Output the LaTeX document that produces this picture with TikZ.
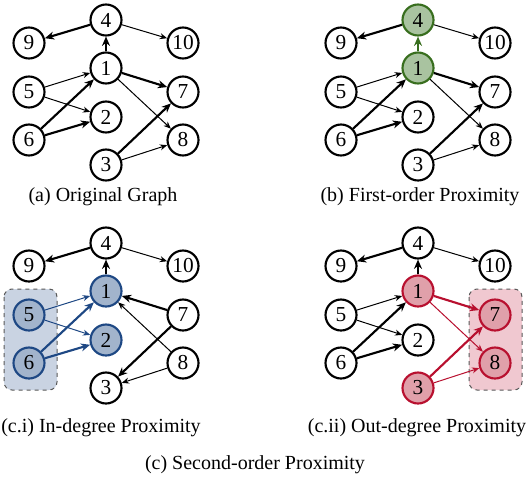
\documentclass[tikz,border=0pt]{standalone}
\usepackage{fontspec}
\setmainfont{Liberation Serif}
\usetikzlibrary{arrows.meta}
\definecolor{gfill}{RGB}{169,195,160}
\definecolor{gline}{RGB}{56,110,30}
\definecolor{bfill}{RGB}{162,180,204}
\definecolor{bline}{RGB}{30,72,132}
\definecolor{rfill}{RGB}{224,160,170}
\definecolor{rline}{RGB}{184,16,47}
\definecolor{bgrp}{RGB}{201,211,226}
\definecolor{rgrp}{RGB}{240,200,208}
\begin{document}
\begin{tikzpicture}[x=0.75pt,y=-0.75pt,
  nd/.style={circle,draw,fill=white,line width=1.6pt,minimum size=23.25pt,inner sep=0pt,font=\fontsize{16}{16}\selectfont},
  gnd/.style={nd,draw=gline,fill=gfill},
  bnd/.style={nd,draw=bline,fill=bfill},
  rnd/.style={nd,draw=rline,fill=rfill},
  thn/.style={line width=0.75pt,-{Stealth[length=5.5pt,width=4.5pt]}},
  thk/.style={line width=1.6pt,-{Stealth[length=7pt,width=6pt]}},
  grp/.style={draw=black!65,dashed,line width=0.75pt,rounded corners=6pt},
  captxt/.style={font=\fontsize{15}{15}\selectfont,inner sep=0pt}]
\useasboundingbox (0,0) rectangle (530,478);
% ---------- (a)
\begin{scope}[name prefix=a-]
\node[nd] (4) at (106,20) {4};
\node[nd] (9) at (29,43) {9};
\node[nd] (10) at (183,43) {10};
\node[nd] (1) at (106,68) {1};
\node[nd] (5) at (29,92) {5};
\node[nd] (7) at (183,92) {7};
\node[nd] (2) at (106,117) {2};
\node[nd] (6) at (29,140) {6};
\node[nd] (8) at (183,140) {8};
\node[nd] (3) at (106,165) {3};
\draw[thk] (4) -- (9);
\draw[thn] (4) -- (10);
\draw[thk] (1) -- (4);
\draw[thn] (5) -- (1);
\draw[thn] (5) -- (2);
\draw[thk] (6) -- (1);
\draw[thk] (6) -- (2);
\draw[thk] (1) -- (7);
\draw[thn] (1) -- (8);
\draw[thk] (3) -- (7);
\draw[thn] (3) -- (8);
\node[captxt] (capa) at (103,197) {(a) Original Graph};
\end{scope}
% ---------- (b)
\begin{scope}[name prefix=b-,shift={(312,0)}]
\node[gnd] (4) at (106,20) {4};
\node[nd] (9) at (29,43) {9};
\node[nd] (10) at (183,43) {10};
\node[gnd] (1) at (106,68) {1};
\node[nd] (5) at (29,92) {5};
\node[nd] (7) at (183,92) {7};
\node[nd] (2) at (106,117) {2};
\node[nd] (6) at (29,140) {6};
\node[nd] (8) at (183,140) {8};
\node[nd] (3) at (106,165) {3};
\draw[thk] (4) -- (9);
\draw[thn] (4) -- (10);
\draw[thk,gline] (1) -- (4);
\draw[thn] (5) -- (1);
\draw[thn] (5) -- (2);
\draw[thk] (6) -- (1);
\draw[thk] (6) -- (2);
\draw[thk] (1) -- (7);
\draw[thn] (1) -- (8);
\draw[thk] (3) -- (7);
\draw[thn] (3) -- (8);
\node[captxt] (capb) at (108,197) {(b) First-order Proximity};
\end{scope}
% ---------- (c.i)
\begin{scope}[name prefix=c-,shift={(0,223)}]
\draw[grp,fill=bgrp] (4,66) rectangle (57,167);
\node[nd] (4) at (106,20) {4};
\node[nd] (9) at (29,43) {9};
\node[nd] (10) at (183,43) {10};
\node[bnd] (1) at (106,68) {1};
\node[bnd] (5) at (29,92) {5};
\node[nd] (7) at (183,92) {7};
\node[bnd] (2) at (106,117) {2};
\node[bnd] (6) at (29,140) {6};
\node[nd] (8) at (183,140) {8};
\node[nd] (3) at (106,165) {3};
\draw[thk] (4) -- (9);
\draw[thn] (4) -- (10);
\draw[thk] (1) -- (4);
\draw[thn,bline] (5) -- (1);
\draw[thn,bline] (5) -- (2);
\draw[thk,bline] (6) -- (1);
\draw[thk,bline] (6) -- (2);
\draw[thk] (7) -- (1);
\draw[thn] (8) -- (1);
\draw[thk] (7) -- (3);
\draw[thn] (8) -- (3);
\node[captxt] (capci) at (101,205) {(c.i) In-degree Proximity};
\end{scope}
% ---------- (c.ii)
\begin{scope}[name prefix=d-,shift={(312,223)}]
\draw[grp,fill=rgrp] (157,66) rectangle (210,167);
\node[nd] (4) at (106,20) {4};
\node[nd] (9) at (29,43) {9};
\node[nd] (10) at (183,43) {10};
\node[rnd] (1) at (106,68) {1};
\node[nd] (5) at (29,92) {5};
\node[rnd] (7) at (183,92) {7};
\node[nd] (2) at (106,117) {2};
\node[nd] (6) at (29,140) {6};
\node[rnd] (8) at (183,140) {8};
\node[rnd] (3) at (106,165) {3};
\draw[thk] (4) -- (9);
\draw[thn] (4) -- (10);
\draw[thk] (1) -- (4);
\draw[thn] (5) -- (1);
\draw[thn] (5) -- (2);
\draw[thk] (6) -- (1);
\draw[thk] (6) -- (2);
\draw[thk,rline] (1) -- (7);
\draw[thn,rline] (1) -- (8);
\draw[thk,rline] (3) -- (7);
\draw[thn,rline] (3) -- (8);
\node[captxt] (capcii) at (105,205) {(c.ii) Out-degree Proximity};
\end{scope}
\node[captxt] (capc) at (255,465) {(c) Second-order Proximity};
\end{tikzpicture}
\end{document}
